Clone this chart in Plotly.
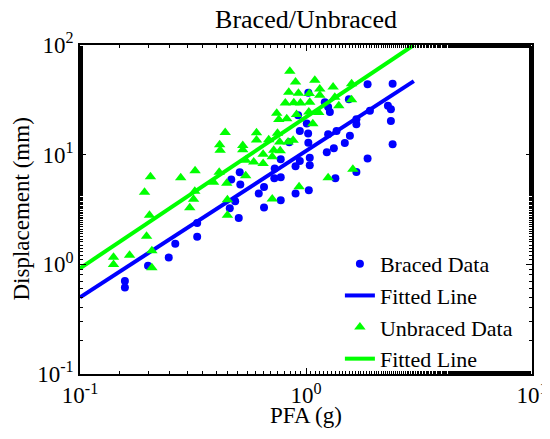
import plotly.graph_objects as go

# Braced specimens: PFA (g) vs displacement (mm)
braced_pfa = [0.158, 0.158, 0.200, 0.247, 0.264, 0.330, 0.330, 0.460, 0.486, 0.504,
              0.467, 0.509, 0.512, 0.618, 0.652, 0.652, 0.724, 0.727, 0.773, 0.773,
              0.773, 0.899, 0.899, 0.939, 1.029, 1.039, 1.039, 0.843, 1.024, 0.939,
              1.022, 0.923, 1.008, 1.024, 1.211, 1.253, 1.275, 1.365, 1.253, 1.564,
              1.485, 1.328, 1.236, 1.548, 1.671, 1.671, 1.918, 1.873, 2.417, 2.304,
              2.375, 2.375, 2.417, 1.873, 1.671, 1.349]
braced_disp = [0.703, 0.614, 0.969, 1.156, 1.543, 1.780, 2.388, 3.25, 3.76, 2.65,
               5.94, 6.91, 5.34, 4.42, 5.08, 3.30, 6.10, 7.47, 9.08, 6.22,
               3.84, 4.42, 7.84, 8.76, 4.74, 9.37, 8.01, 12.97, 12.83, 16.44,
               15.57, 22.85, 19.2, 36.6, 30.0, 27.2, 24.5, 16.44, 15.34, 14.86,
               12.78, 11.44, 10.52, 31.96, 21.0, 18.92, 25.1, 43.8, 44.4, 27.9,
               25.9, 20.3, 12.44, 9.21, 6.96, 6.10]

# Unbraced specimens
unbraced_pfa = [0.1407, 0.1407, 0.1657, 0.208, 0.208, 0.197, 0.203, 0.193, 0.205, 0.279,
                0.323, 0.322, 0.318, 0.306, 0.390, 0.413, 0.446, 0.449, 0.449, 0.541,
                0.541, 0.587, 0.646, 0.646, 0.709, 0.709, 0.932, 0.439, 0.415, 0.417,
                0.525, 0.525, 0.604, 0.604, 0.684, 0.748, 0.765, 0.720, 0.769, 0.833,
                0.877, 0.742, 0.758, 0.822, 0.908, 0.810, 0.883, 0.945, 0.839, 0.926,
                0.899, 0.848, 1.034, 1.094, 1.151, 1.318, 1.591, 1.039, 1.151, 1.341,
                1.397, 1.591, 1.029, 1.139, 1.072, 1.612, 1.253]
unbraced_disp = [1.163, 0.998, 1.213, 1.333, 0.933, 1.806, 2.806, 4.55, 6.29, 6.16,
                 7.14, 4.64, 3.93, 3.28, 5.61, 6.91, 5.49, 3.88, 2.806, 6.43,
                 8.89, 8.58, 8.30, 10.08, 9.57, 3.95, 5.10, 15.9, 12.31, 10.97,
                 12.10, 11.08, 15.83, 13.61, 13.67, 15.66, 13.05, 10.97, 10.85, 13.05,
                 13.53, 23.8, 20.9, 21.3, 23.3, 29.6, 29.7, 29.6, 37.0, 36.4,
                 46.1, 57.5, 36.2, 47.6, 39.8, 41.4, 44.4, 30.0, 34.8, 33.3,
                 27.9, 31.6, 24.5, 24.3, 19.1, 7.36, 6.16]

# Fitted lines (end points)
fit_pfa = [0.1, 3.0]
braced_fit = [0.5, 46.9]
unbraced_fit = [0.92, 100.0]

# Axis ticks
x_tickvals = [0.1, 1, 10]
x_ticktext = ["10<sup>-1</sup>", "10<sup>0</sup>", "10<sup>1</sup>"]
y_tickvals = [0.1, 1, 10, 100]
y_ticktext = ["10<sup>-1</sup>", "10<sup>0</sup>", "10<sup>1</sup>", "10<sup>2</sup>"]

BLUE = "#0000FF"
GREEN = "#00FF00"
FONT = "Liberation Serif, Times New Roman, serif"

fig = go.Figure()
fig.add_trace(go.Scatter(x=braced_pfa, y=braced_disp, mode="markers", name="Braced Data",
                         marker=dict(symbol="circle", size=8, color=BLUE)))
fig.add_trace(go.Scatter(x=fit_pfa, y=braced_fit, mode="lines", name="Fitted Line",
                         line=dict(color=BLUE, width=4)))
fig.add_trace(go.Scatter(x=unbraced_pfa, y=unbraced_disp, mode="markers", name="Unbraced Data",
                         marker=dict(symbol="triangle-up", size=10, color=GREEN)))
fig.add_trace(go.Scatter(x=fit_pfa, y=unbraced_fit, mode="lines", name="Fitted Line",
                         line=dict(color=GREEN, width=4)))

axis_common = dict(
    type="log", showgrid=False, zeroline=False, automargin=False,
    showline=True, linecolor="black", linewidth=1.5, mirror="allticks",
    ticks="inside", ticklen=6, tickwidth=1, tickcolor="black",
    tickfont=dict(family=FONT, size=23, color="black"),
    minor=dict(ticks="inside", ticklen=3, tickwidth=1, tickcolor="black", showgrid=False),
)

# page body has an 8px default margin, so the figure is offset by 8px
OFF = 8
W, H = 550, 439
L, T = 80 - OFF, 45 - OFF
R = W + OFF - 532
B = H + OFF - 374
pw, ph = W - L - R, H - T - B

fig.update_layout(
    width=W, height=H,
    margin=dict(l=L, r=R, t=T, b=B),
    paper_bgcolor="white", plot_bgcolor="white",
    font=dict(family=FONT, color="black", size=23),
    title=dict(text="Braced/Unbraced", x=(306 - OFF) / W, xanchor="center",
               y=1 - (19 - OFF) / H, yanchor="middle",
               font=dict(family=FONT, size=26, color="black")),
    xaxis=dict(axis_common, range=[-1, 1], tickvals=x_tickvals, ticktext=x_ticktext),
    yaxis=dict(axis_common, range=[-1, 2], tickvals=y_tickvals, ticktext=y_ticktext),
    legend=dict(x=0.575, y=0.398, xanchor="left", yanchor="top",
                bgcolor="rgba(0,0,0,0)", borderwidth=0,
                font=dict(family=FONT, size=22, color="black"),
                tracegroupgap=0),
    showlegend=True,
    annotations=[
        dict(text="PFA (g)", xref="paper", yref="paper", x=0.5, y=-(415 - 374) / ph,
             xanchor="center", yanchor="middle", showarrow=False,
             font=dict(family=FONT, size=23, color="black")),
        dict(text="Displacement (mm)", xref="paper", yref="paper", x=-(80 - 21) / pw, y=0.5,
             xanchor="center", yanchor="middle", textangle=-90, showarrow=False,
             font=dict(family=FONT, size=23, color="black")),
    ],
)

fig.write_html("out.html")
